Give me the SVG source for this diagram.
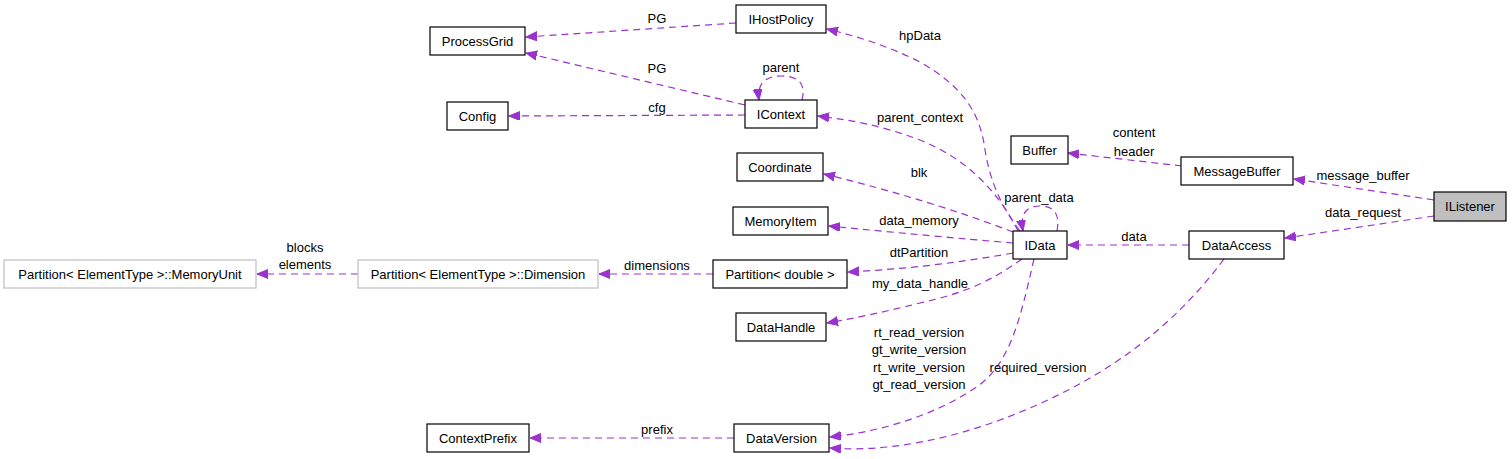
<svg xmlns="http://www.w3.org/2000/svg" width="1512" height="459" viewBox="0 0 1512 459">
<style>
  .n rect { fill: #ffffff; stroke: #000000; stroke-width: 1.2; }
  .n.g rect { stroke: #bfbfbf; }
  .n.hl rect { fill: #bfbfbf; }
  text { font-family: "Liberation Sans", Arial, Helvetica, sans-serif; font-size: 13px; fill: #000000; }
  .n text { text-anchor: middle; }
  .e path { fill: none; stroke: #9a32cd; stroke-width: 1.2; stroke-dasharray: 7,5; marker-end: url(#arr); }
  .lbl text { text-anchor: middle; }
</style>
<defs>
  <marker id="arr" markerUnits="userSpaceOnUse" markerWidth="12" markerHeight="10" refX="11" refY="4.5" orient="auto">
    <path d="M0,0 L11,4.5 L0,9 z" fill="#9a32cd" stroke="#9a32cd" stroke-width="1"/>
  </marker>
</defs>
<rect width="1512" height="459" fill="#ffffff"/>

<g id="connectors" class="e">
  <path d="M1434,200 L1294,179"/>
  <path d="M1434,216 L1285,238"/>
  <path d="M1182,166 L1068,153"/>
  <path d="M1189,245 L1068,245"/>
  <path d="M1224,259 C1160,345 1080,390 1000,420 C940,442 880,452 830,448"/>
  <path d="M1034,259 C1020,320 1010,365 975,388 C935,415 880,432 830,437"/>
  <path d="M1022,259 C995,278 970,292 920,303 C880,313 855,318 827,323"/>
  <path d="M1013,253 Q930,268 848,272"/>
  <path d="M713,274 L599,274"/>
  <path d="M358,274 L257,274"/>
  <path d="M1013,243 Q930,236 829,226"/>
  <path d="M1013,232 Q930,200 824,174"/>
  <path d="M1057,231 C1060,215 1055,206 1040,206 C1025,206 1020,215 1023,231"/>
  <path d="M1018,231 C1000,195 970,160 920,140 C880,125 850,120 818,116"/>
  <path d="M1020,231 C1000,205 990,180 985,150 C980,110 960,85 920,62 C890,47 860,37 827,29"/>
  <path d="M736,23 L526,37"/>
  <path d="M745,105 L526,53"/>
  <path d="M745,115 L509,116"/>
  <path d="M802,100 C806,85 800,76 781,76 C764,76 757,85 759,100"/>
  <path d="M734,438 L530,438"/>
</g>

<g id="edge-labels" class="lbl">
  <text x="657" y="22.5">PG</text>
  <text x="920" y="39.5">hpData</text>
  <text x="657" y="72.5">PG</text>
  <text x="781" y="71.5">parent</text>
  <text x="657" y="111.5">cfg</text>
  <text x="920" y="121.5">parent_context</text>
  <text x="1134" y="136.5">content</text>
  <text x="1134" y="155.5">header</text>
  <text x="919" y="176.5">blk</text>
  <text x="1363" y="179.5">message_buffer</text>
  <text x="1039" y="201.5">parent_data</text>
  <text x="1363" y="216.5">data_request</text>
  <text x="919" y="224.5">data_memory</text>
  <text x="1134" y="240.5">data</text>
  <text x="305" y="251.5">blocks</text>
  <text x="305" y="268.5">elements</text>
  <text x="657" y="269.5">dimensions</text>
  <text x="919" y="256.5">dtPartition</text>
  <text x="920" y="287.5">my_data_handle</text>
  <text x="919" y="336.5">rt_read_version</text>
  <text x="919" y="353.5">gt_write_version</text>
  <text x="919" y="371.5">rt_write_version</text>
  <text x="919" y="388.5">gt_read_version</text>
  <text x="1038" y="371.5">required_version</text>
  <text x="657" y="433.5">prefix</text>
</g>

<g id="IListener" class="n hl"><rect x="1434" y="192" width="72" height="29"/><text x="1470" y="211">IListener</text></g>
<g id="MessageBuffer" class="n"><rect x="1181" y="157" width="112" height="28"/><text x="1237" y="175.5">MessageBuffer</text></g>
<g id="DataAccess" class="n"><rect x="1189" y="231" width="95" height="28"/><text x="1236.5" y="249.5">DataAccess</text></g>
<g id="Buffer" class="n"><rect x="1011" y="136" width="57" height="28"/><text x="1039.5" y="154.5">Buffer</text></g>
<g id="IData" class="n"><rect x="1013" y="231" width="54" height="28"/><text x="1040" y="249.5">IData</text></g>
<g id="IHostPolicy" class="n"><rect x="736" y="5" width="90" height="28"/><text x="781" y="23.5">IHostPolicy</text></g>
<g id="ProcessGrid" class="n"><rect x="430" y="27" width="95" height="28"/><text x="477.5" y="45.5">ProcessGrid</text></g>
<g id="IContext" class="n"><rect x="745" y="100" width="72" height="28"/><text x="781" y="118.5">IContext</text></g>
<g id="Config" class="n"><rect x="447" y="102" width="61" height="28"/><text x="477.5" y="120.5">Config</text></g>
<g id="Coordinate" class="n"><rect x="737" y="153" width="86" height="28"/><text x="780" y="171.5">Coordinate</text></g>
<g id="MemoryItem" class="n"><rect x="733" y="207" width="95" height="28"/><text x="780.5" y="225.5">MemoryItem</text></g>
<g id="PartitionDouble" class="n"><rect x="713" y="260" width="134" height="28"/><text x="780" y="278.5">Partition&lt; double &gt;</text></g>
<g id="DataHandle" class="n"><rect x="736" y="313" width="90" height="28"/><text x="781" y="331.5">DataHandle</text></g>
<g id="PartitionDimension" class="n g"><rect x="358" y="260" width="240" height="28"/><text x="478" y="278.5">Partition&lt; ElementType &gt;::Dimension</text></g>
<g id="PartitionMemoryUnit" class="n g"><rect x="4" y="260" width="252" height="28"/><text x="130" y="278.5">Partition&lt; ElementType &gt;::MemoryUnit</text></g>
<g id="ContextPrefix" class="n"><rect x="427" y="424" width="102" height="28"/><text x="478" y="442.5">ContextPrefix</text></g>
<g id="DataVersion" class="n"><rect x="734" y="424" width="95" height="28"/><text x="781.5" y="442.5">DataVersion</text></g>
</svg>
